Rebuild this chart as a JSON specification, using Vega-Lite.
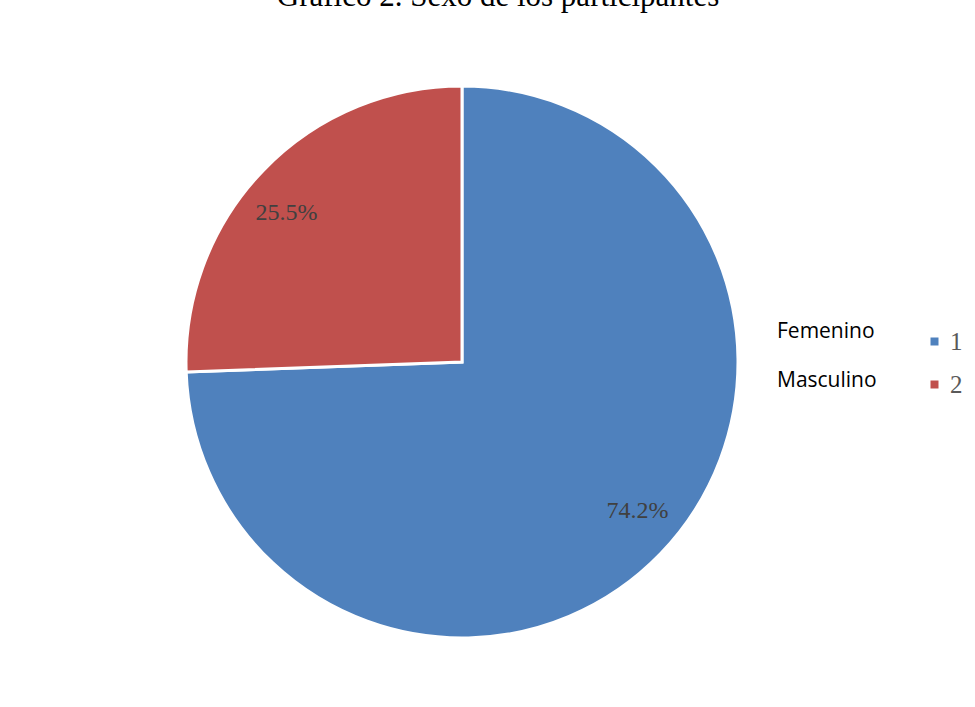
{
  "$schema": "https://vega.github.io/schema/vega-lite/v6.json",
  "width": 908,
  "height": 702,
  "autosize": "none",
  "padding": {"left": 8, "top": 11, "right": 59, "bottom": 0},
  "background": "white",
  "config": {"view": {"stroke": null}},
  "title": {
    "text": "Gráfico 2. Sexo de los participantes",
    "font": "Liberation Serif",
    "fontSize": 31,
    "fontWeight": "normal",
    "color": "black",
    "baseline": "alphabetic",
    "offset": -26,
    "dx": 36
  },
  "data": {
    "values": [
      {"sexo": "Femenino", "codigo": "1", "pct": 74.2, "etiqueta": "74.2%"},
      {"sexo": "Masculino", "codigo": "2", "pct": 25.5, "etiqueta": "25.5%"}
    ]
  },
  "layer": [
    {
      "mark": {"type": "arc", "radius": 276, "strokeWidth": 3},
      "encoding": {
        "theta": {"field": "pct", "type": "quantitative", "stack": true},
        "order": {"field": "codigo", "sort": "ascending"},
        "color": {
          "field": "codigo",
          "type": "nominal",
          "scale": {"domain": ["1", "2"], "range": ["#4F81BD", "#C0504D"]},
          "legend": {
            "orient": "none",
            "legendX": 914,
            "legendY": 318,
            "title": null,
            "padding": 0,
            "symbolType": "square",
            "symbolSize": 64,
            "symbolStrokeWidth": 0,
            "labelFont": "Liberation Serif",
            "labelFontSize": 25,
            "labelColor": "#595959",
            "labelOffset": 3,
            "labelLimit": 0,
            "rowPadding": 17
          }
        },
        "stroke": {
          "field": "sexo",
          "type": "nominal",
          "scale": {"domain": ["Femenino", "Masculino"], "range": ["white", "white"]},
          "legend": {
            "orient": "none",
            "legendX": 748,
            "legendY": 310,
            "title": null,
            "padding": 0,
            "symbolSize": 0,
            "symbolOpacity": 0,
            "labelOffset": 0,
            "labelFont": "Open Sans",
            "labelFontSize": 21,
            "labelColor": "black",
            "rowPadding": 27
          }
        }
      }
    },
    {
      "mark": {"type": "text", "radius": 230, "thetaOffset": -0.065, "font": "Liberation Serif", "fontSize": 24, "color": "#404040"},
      "encoding": {
        "theta": {"field": "pct", "type": "quantitative", "stack": true},
        "order": {"field": "codigo", "sort": "ascending"},
        "text": {"field": "etiqueta", "type": "nominal"}
      }
    }
  ]
}
